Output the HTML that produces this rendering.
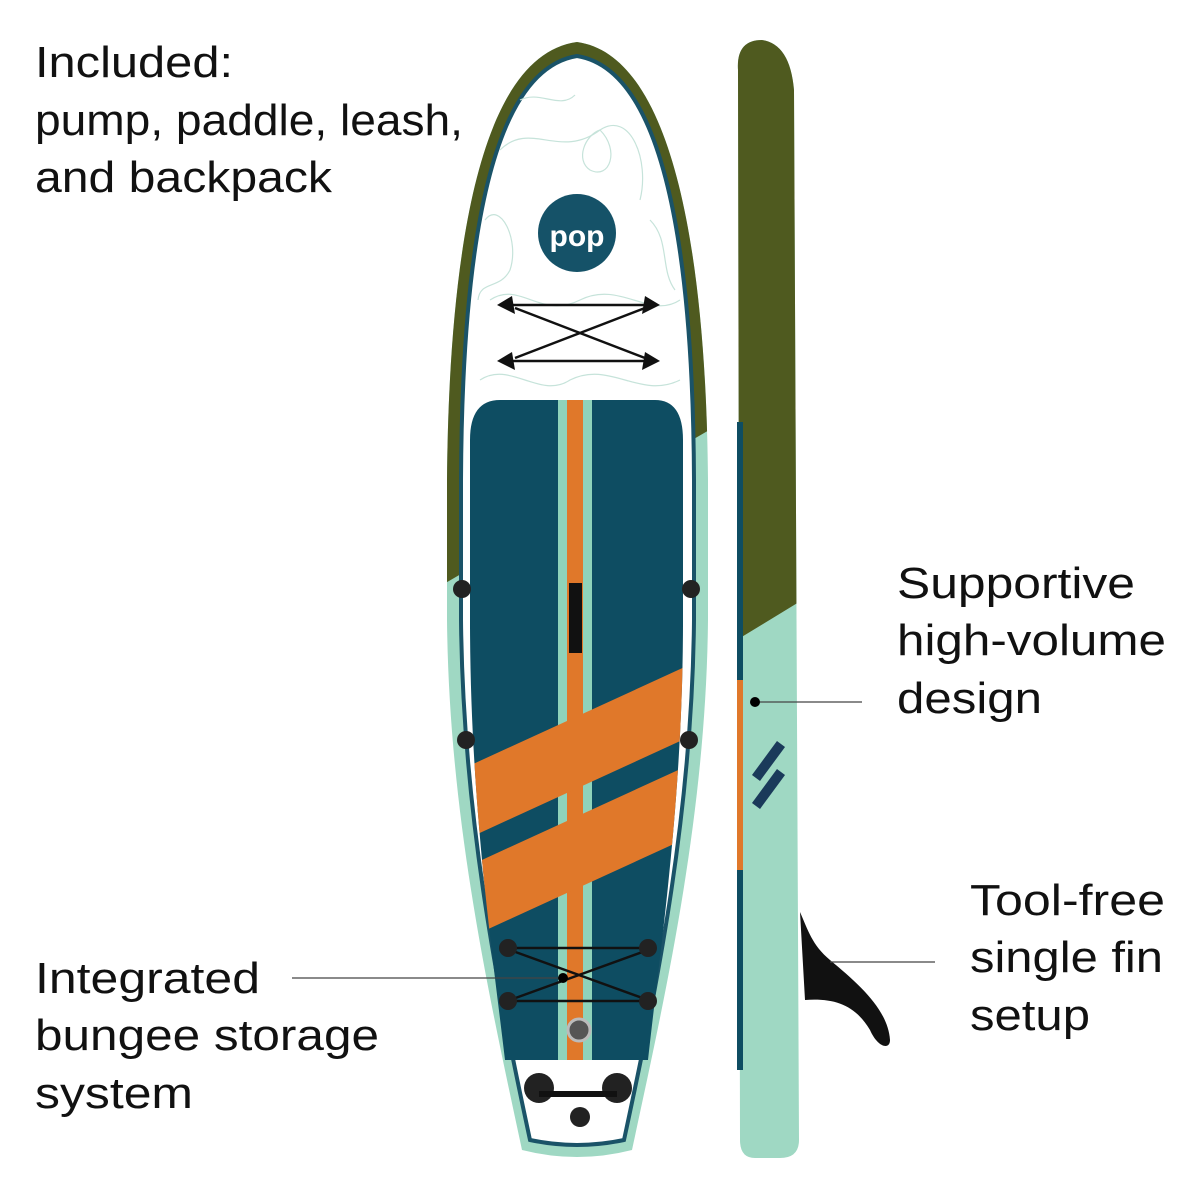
<!DOCTYPE html>
<html><head><meta charset="utf-8"><style>
html,body{margin:0;padding:0;background:#fff}
svg{display:block}
text{font-family:"Liberation Sans",sans-serif;fill:#111}
</style></head><body>
<svg width="1200" height="1200" viewBox="0 0 1200 1200" xmlns="http://www.w3.org/2000/svg">
<defs>
<clipPath id="board"><path d="M577,42 C480,55 449,250 447,480 L447,620 C449,820 490,1000 522,1150 Q577,1164 632,1150 C664,1000 706,820 708,620 L708,480 C706,250 672,55 577,42 Z"/></clipPath>
<clipPath id="side"><path d="M738,70 Q736,40 762,40 Q790,44 794,90 L799,1140 Q799,1158 780,1158 L755,1158 Q740,1158 740,1140 Z"/></clipPath>
<clipPath id="pad"><path d="M500,400 L655,400 Q683,400 683,440 L683,620 C683,800 660,950 648,1060 L505,1060 C492,950 470,800 470,620 L470,440 Q470,400 500,400 Z"/></clipPath>
</defs>
<g clip-path="url(#board)">
<rect x="440" y="30" width="280" height="1140" fill="#9fd8c3"/>
<polygon points="430,30 730,30 730,418 430,592" fill="#4f5a1f"/>
</g>
<path d="M577,56 C490,70 462,250 461,480 L461,620 C463,820 500,1000 530,1140 Q577,1150 624,1140 C654,1000 692,820 694,620 L694,480 C693,250 664,70 577,56 Z" fill="#fff" stroke="#1a5368" stroke-width="4"/>
<g fill="none" stroke="#c6e3da" stroke-width="1.2">
<path d="M500,150 C530,120 560,160 600,130 C630,110 650,160 640,200"/>
<path d="M490,300 C520,280 540,320 580,300 C620,280 650,320 680,300"/>
<path d="M600,130 C620,150 610,180 590,170 C575,160 585,135 600,130Z"/>
<path d="M480,380 C510,360 540,400 570,380 C610,360 640,400 680,380"/>
<path d="M485,220 C500,200 520,240 510,270 C500,290 480,280 478,300"/>
<path d="M650,220 C670,240 660,270 675,290"/>
<path d="M520,100 C540,90 560,110 575,95"/>
</g>
<circle cx="577" cy="233" r="39" fill="#155268"/>
<text x="577" y="246" text-anchor="middle" font-size="30" font-weight="bold" style="fill:#fff">pop</text>
<g stroke="#111" stroke-width="2.5" fill="none">
<line x1="510" y1="305" x2="647" y2="305"/><line x1="510" y1="361" x2="647" y2="361"/>
<line x1="515" y1="308" x2="645" y2="358"/><line x1="515" y1="358" x2="645" y2="308"/>
</g>
<g fill="#111"><path d="M497,305 L512,296 L515,314 Z"/><path d="M660,305 L645,296 L642,314 Z"/>
<path d="M497,361 L512,352 L515,370 Z"/><path d="M660,361 L645,352 L642,370 Z"/></g>
<g clip-path="url(#pad)">
<rect x="460" y="395" width="235" height="670" fill="#0e4d62"/>
<rect x="558" y="395" width="34" height="670" fill="#8fd3ba"/>
<rect x="567" y="395" width="16" height="670" fill="#e0782a"/>
<polygon points="460,770 700,660 700,732 460,842" fill="#e0782a"/>
<polygon points="460,870 700,760 700,832 460,942" fill="#e0782a"/>
</g>
<rect x="569" y="583" width="13" height="70" fill="#111"/>
<g fill="#222"><circle cx="462" cy="589" r="9"/><circle cx="691" cy="589" r="9"/><circle cx="466" cy="740" r="9"/><circle cx="689" cy="740" r="9"/></g>
<g stroke="#111" stroke-width="2.5" fill="none">
<line x1="508" y1="948" x2="648" y2="948"/><line x1="508" y1="1001" x2="648" y2="1001"/>
<line x1="510" y1="950" x2="648" y2="1000"/><line x1="510" y1="1000" x2="648" y2="950"/>
</g>
<g fill="#222"><circle cx="508" cy="948" r="9"/><circle cx="648" cy="948" r="9"/><circle cx="508" cy="1001" r="9"/><circle cx="648" cy="1001" r="9"/></g>
<circle cx="579" cy="1030" r="11" fill="#555" stroke="#bbb" stroke-width="3"/>
<g fill="#222"><circle cx="539" cy="1088" r="15"/><circle cx="617" cy="1088" r="15"/><circle cx="580" cy="1117" r="10"/></g>
<rect x="539" y="1091" width="78" height="6" fill="#111"/>
<!-- side view -->
<path d="M800,912 C808,930 812,945 830,960 C860,985 888,1010 890,1040 C890,1050 878,1048 870,1030 C855,1005 835,998 805,1000 Z" fill="#111"/>
<g clip-path="url(#side)">
<rect x="730" y="30" width="80" height="1140" fill="#9fd8c3"/>
<polygon points="730,30 810,30 810,602 799,602 740,638 730,642" fill="#4f5a1f"/>
</g>
<rect x="737" y="422" width="6" height="648" fill="#0e4d62"/>
<rect x="737" y="680" width="6" height="190" fill="#e0782a"/>
<g stroke="#1a3a5a" stroke-width="10">
<line x1="756" y1="778" x2="781" y2="744"/>
<line x1="756" y1="806" x2="781" y2="772"/>
</g>
<g stroke="#444" stroke-width="1.2">
<line x1="292" y1="978" x2="565" y2="978"/>
<line x1="755" y1="702" x2="862" y2="702"/>
<line x1="830" y1="962" x2="935" y2="962"/>
</g>
<circle cx="563" cy="978" r="5" fill="#000"/>
<circle cx="755" cy="702" r="5" fill="#000"/>
<g font-size="44" lengthAdjust="spacingAndGlyphs">
<text x="35" y="77" textLength="198" lengthAdjust="spacingAndGlyphs">Included:</text>
<text x="35" y="135" textLength="428" lengthAdjust="spacingAndGlyphs">pump, paddle, leash,</text>
<text x="35" y="192" textLength="297" lengthAdjust="spacingAndGlyphs">and backpack</text>
<text x="897" y="598" textLength="238" lengthAdjust="spacingAndGlyphs">Supportive</text>
<text x="897" y="655" textLength="269" lengthAdjust="spacingAndGlyphs">high-volume</text>
<text x="897" y="713" textLength="145" lengthAdjust="spacingAndGlyphs">design</text>
<text x="970" y="915" textLength="195" lengthAdjust="spacingAndGlyphs">Tool-free</text>
<text x="970" y="972" textLength="193" lengthAdjust="spacingAndGlyphs">single fin</text>
<text x="970" y="1030" textLength="120" lengthAdjust="spacingAndGlyphs">setup</text>
<text x="35" y="993" textLength="225" lengthAdjust="spacingAndGlyphs">Integrated</text>
<text x="35" y="1050" textLength="344" lengthAdjust="spacingAndGlyphs">bungee storage</text>
<text x="35" y="1108" textLength="158" lengthAdjust="spacingAndGlyphs">system</text>
</g>
</svg>
</body></html>
